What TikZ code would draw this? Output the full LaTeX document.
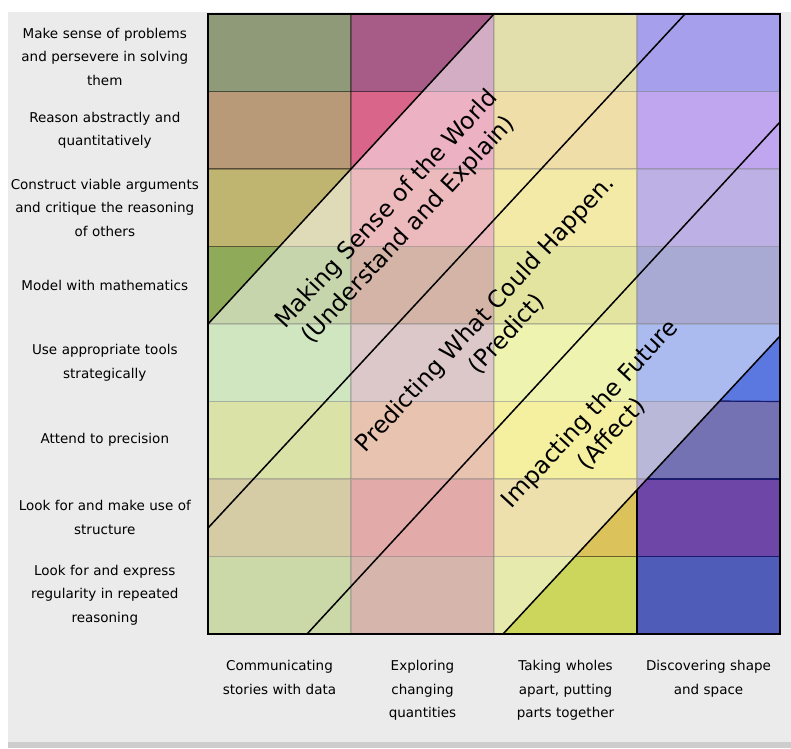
\documentclass[tikz,border=0pt]{standalone}
\usepackage{fontspec}
\setmainfont{DejaVu Sans}
\usepackage{xcolor}
\usepackage{tikz}
\usetikzlibrary{positioning}

\definecolor{bgray}{HTML}{EBEBEB}
\definecolor{edge}{HTML}{CDCDCD}
\definecolor{navy}{HTML}{1A1A6E}
% column 1
\definecolor{cA0}{HTML}{8E9A78}
\definecolor{cA1}{HTML}{B89A78}
\definecolor{cA2}{HTML}{C0B570}
\definecolor{cA3}{HTML}{8FAB5A}
\definecolor{cA4}{HTML}{9FCD81}
\definecolor{cA5}{HTML}{B7C551}
\definecolor{cA6}{HTML}{AB974B}
\definecolor{cA7}{HTML}{97B351}
% column 2
\definecolor{cB0}{HTML}{A75C87}
\definecolor{cB1}{HTML}{D9668A}
\definecolor{cB2}{HTML}{D97379}
\definecolor{cB3}{HTML}{A9694D}
\definecolor{cB4}{HTML}{B99191}
\definecolor{cB5}{HTML}{D18961}
\definecolor{cB6}{HTML}{C55551}
\definecolor{cB7}{HTML}{AD6D59}
% column 3
\definecolor{cC0}{HTML}{C7BF59}
\definecolor{cC1}{HTML}{E1BD51}
\definecolor{cC2}{HTML}{E9D551}
\definecolor{cC3}{HTML}{C7C941}
\definecolor{cC4}{HTML}{DDE961}
\definecolor{cC5}{HTML}{E9E141}
\definecolor{cC6}{HTML}{DCC25A}
\definecolor{cC7}{HTML}{CDD65C}
% column 4
\definecolor{cD0}{HTML}{4D41D9}
\definecolor{cD1}{HTML}{814DDD}
\definecolor{cD2}{HTML}{7961C9}
\definecolor{cD3}{HTML}{5155A9}
\definecolor{cD4}{HTML}{5A78E0}
\definecolor{cD5}{HTML}{7472B2}
\definecolor{cD6}{HTML}{6E46A8}
\definecolor{cD7}{HTML}{4F5CB8}

\begin{document}
\begin{tikzpicture}[x=1pt, y=-1pt, node distance=77.5pt and 143pt,
  cell/.style={draw=black, draw opacity=0.3, line width=1.2pt, rectangle, minimum width=143pt, minimum height=77.5pt, inner sep=0pt, outer sep=0pt, on grid},
  rowlab/.style={text width=194pt, align=center, inner sep=0pt, text=black, font=\fontsize{13.5}{23.7}\selectfont},
  collab/.style={text width=142pt, align=center, inner sep=0pt, text=black, font=\fontsize{13.5}{23.7}\selectfont},
  band/.style={rotate=47.2, align=center, text=black, font=\fontsize{23.5}{30}\selectfont}]
  \useasboundingbox (0,0) rectangle (791,748);
  \fill[white] (0,0) rectangle (791,748);
  \fill[bgray] (8,12) rectangle (791,742);
  \fill[edge] (8,742) rectangle (791,748);

  % the grid of cells
  \node (c00) [cell, fill=cA0] at (279.5,52.75) {};
  \node (c01) [cell, fill=cB0, right=of c00] {};
  \node (c02) [cell, fill=cC0, right=of c01] {};
  \node (c03) [cell, fill=cD0, right=of c02] {};
  \node (c10) [cell, fill=cA1, below=of c00] {};
  \node (c11) [cell, fill=cB1, right=of c10] {};
  \node (c12) [cell, fill=cC1, right=of c11] {};
  \node (c13) [cell, fill=cD1, right=of c12] {};
  \node (c20) [cell, fill=cA2, below=of c10] {};
  \node (c21) [cell, fill=cB2, right=of c20] {};
  \node (c22) [cell, fill=cC2, right=of c21] {};
  \node (c23) [cell, fill=cD2, right=of c22] {};
  \node (c30) [cell, fill=cA3, below=of c20] {};
  \node (c31) [cell, fill=cB3, right=of c30] {};
  \node (c32) [cell, fill=cC3, right=of c31] {};
  \node (c33) [cell, fill=cD3, right=of c32] {};
  \node (c40) [cell, fill=cA4, below=of c30] {};
  \node (c41) [cell, fill=cB4, right=of c40] {};
  \node (c42) [cell, fill=cC4, right=of c41] {};
  \node (c43) [cell, fill=cD4, right=of c42] {};
  \node (c50) [cell, fill=cA5, below=of c40] {};
  \node (c51) [cell, fill=cB5, right=of c50] {};
  \node (c52) [cell, fill=cC5, right=of c51] {};
  \node (c53) [cell, fill=cD5, right=of c52] {};
  \node (c60) [cell, fill=cA6, below=of c50] {};
  \node (c61) [cell, fill=cB6, right=of c60] {};
  \node (c62) [cell, fill=cC6, right=of c61] {};
  \node (c63) [cell, fill=cD6, right=of c62] {};
  \node (c70) [cell, fill=cA7, below=of c60] {};
  \node (c71) [cell, fill=cB7, right=of c70] {};
  \node (c72) [cell, fill=cC7, right=of c71] {};
  \node (c73) [cell, fill=cD7, right=of c72] {};

  % diagonal bands
  \coordinate (s1) at (c30.south west);
  \coordinate (e1) at (c02.north west);
  \coordinate (s2) at (208,528);
  \coordinate (e2) at (685,14);
  \coordinate (s3) at (307,634);
  \coordinate (e3) at (780,122);
  \coordinate (s4) at (503,634);
  \coordinate (e4) at (780,336);
  \fill[white, fill opacity=0.5] (s1) -- (e1) -- (c03.north east) -- (e4) -- (s4) -- (c70.south west) -- cycle;

  % darker edges of the last column below the bands
  \draw[navy, line width=1.2pt] (720,401) -- (c43.south east);
  \draw[navy, line width=1.2pt] (647,479) -- (c53.south east);
  \draw[navy, line width=1.2pt] (c63.south west) -- (c63.south east);
  \draw[black, line width=1.2pt] (637,490) -- (c73.south west);

  \draw[line width=2pt] (c00.north west) rectangle (c73.south east);
  \draw[line width=1.5pt] (s1) -- (e1);
  \draw[line width=1.5pt] (s2) -- (e2);
  \draw[line width=1.5pt] (s3) -- (e3);
  \draw[line width=1.5pt] (s4) -- (e4);

  \node (sense) [band] at (398,220) {Making Sense of the World\\(Understand and Explain)};
  \node (predict) [band] at (496,324) {Predicting What Could Happen.\\(Predict)};
  \node (impact) [band] at (601,424) {Impacting the Future\\(Affect)};

  % practices
  \node (p1) [rowlab, left=6pt of c00, yshift=-4pt] {Make sense of problems\\and persevere in solving\\them};
  \node (p2) [rowlab, left=6pt of c10] {Reason abstractly and\\quantitatively};
  \node (p3) [rowlab, left=6pt of c20] {Construct viable arguments\\and critique the reasoning\\of others};
  \node (p4) [rowlab, left=6pt of c30] {Model with mathematics};
  \node (p5) [rowlab, left=6pt of c40] {Use appropriate tools\\strategically};
  \node (p6) [rowlab, left=6pt of c50] {Attend to precision};
  \node (p7) [rowlab, left=6pt of c60] {Look for and make use of\\structure};
  \node (p8) [rowlab, left=6pt of c70] {Look for and express\\regularity in repeated\\reasoning};

  % strands
  \node (t1) [collab, below=26pt of c70] {Communicating\\stories with data};
  \node (t2) [collab, below=26pt of c71] {Exploring\\changing\\quantities};
  \node (t3) [collab, below=26pt of c72] {Taking wholes\\apart, putting\\parts together};
  \node (t4) [collab, below=26pt of c73] {Discovering shape\\and space};
\end{tikzpicture}
\end{document}
